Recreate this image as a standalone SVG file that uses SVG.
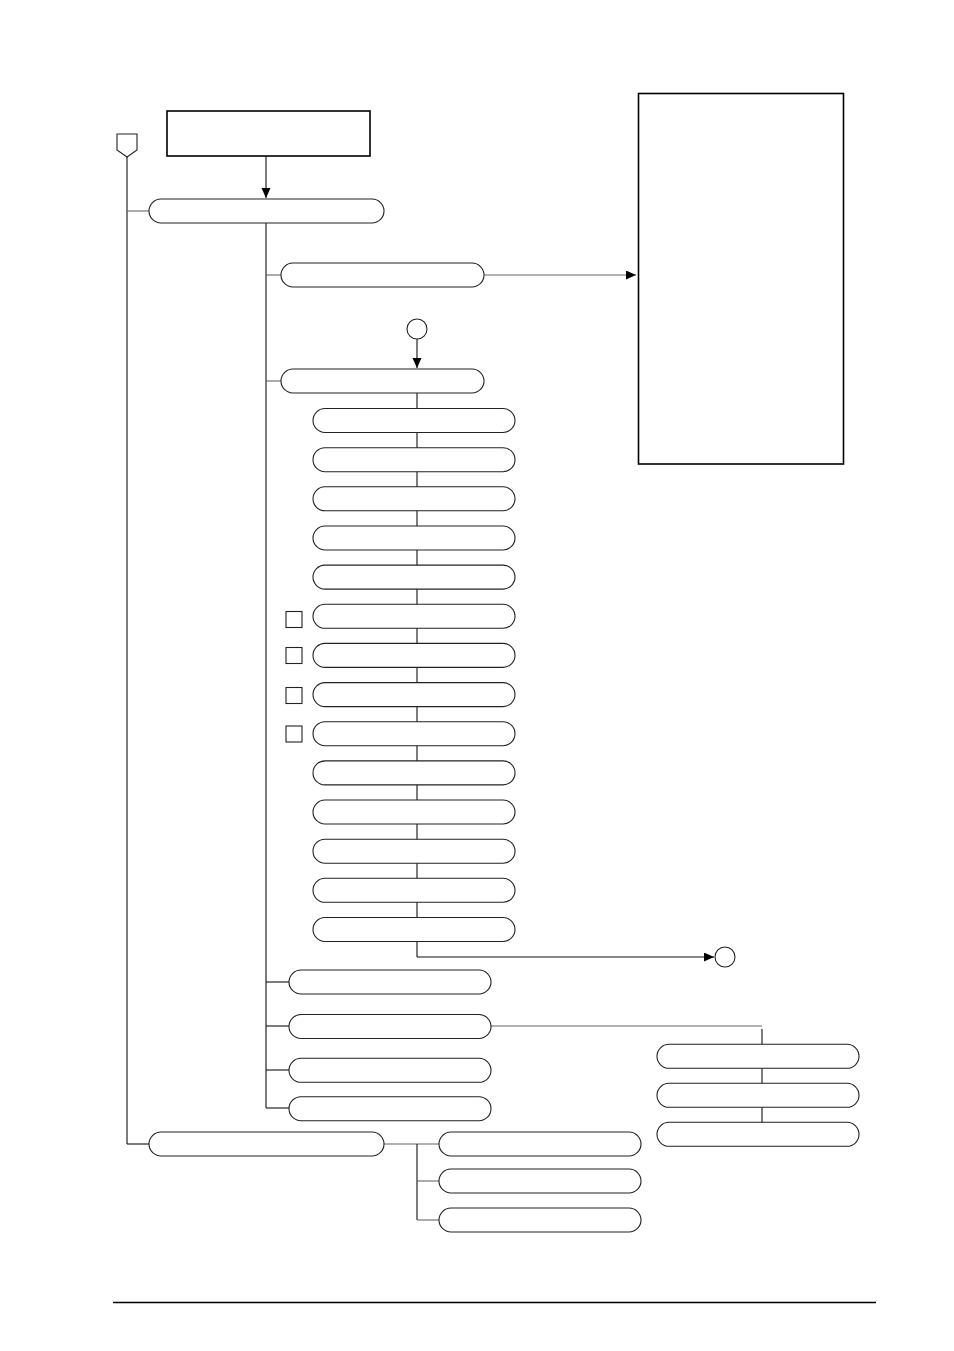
<svg xmlns="http://www.w3.org/2000/svg" width="954" height="1351" viewBox="0 0 954 1351">
<style>
.p{fill:#fff;stroke:#222;stroke-width:1.1}
.b{fill:#fff;stroke:#000;stroke-width:1.6}
.l{fill:none;stroke:#111;stroke-width:1.1}
.g{fill:none;stroke:#666;stroke-width:1.1}
</style>
<defs>
<marker id="ah" markerUnits="userSpaceOnUse" markerWidth="11" markerHeight="10" refX="10" refY="4.5" orient="auto">
<path d="M0,0 L10,4.5 L0,9 z" fill="#000"/>
</marker>
</defs>
<rect width="954" height="1351" fill="#fff"/>
<g id="connectors">
<line class="l" x1="127" y1="157" x2="127" y2="1144"/>
<line class="g" x1="127" y1="211" x2="149" y2="211"/>
<line class="l" x1="127" y1="1144" x2="149" y2="1144"/>
<line class="l" x1="266" y1="156" x2="266" y2="198" marker-end="url(#ah)"/>
<line class="l" x1="266" y1="223" x2="266" y2="1108"/>
<line class="g" x1="266" y1="275" x2="281" y2="275"/>
<line class="g" x1="484" y1="275" x2="636" y2="275" marker-end="url(#ah)"/>
<line class="l" x1="417" y1="339" x2="417" y2="368" marker-end="url(#ah)"/>
<line class="g" x1="266" y1="381" x2="281" y2="381"/>
<line class="l" x1="417" y1="393" x2="417" y2="957"/>
<line class="l" x1="417" y1="957" x2="714" y2="957" marker-end="url(#ah)"/>
<line class="l" x1="266" y1="982" x2="289" y2="982"/>
<line class="l" x1="266" y1="1026" x2="289" y2="1026"/>
<line class="g" x1="491" y1="1026" x2="762" y2="1026"/>
<line class="l" x1="762" y1="1029" x2="762" y2="1134"/>
<line class="l" x1="266" y1="1070" x2="289" y2="1070"/>
<line class="l" x1="266" y1="1108" x2="289" y2="1108"/>
<line class="g" x1="384" y1="1144" x2="439" y2="1144"/>
<line class="l" x1="417" y1="1144" x2="417" y2="1220"/>
<line class="g" x1="417" y1="1181" x2="439" y2="1181"/>
<line class="g" x1="417" y1="1220" x2="439" y2="1220"/>
<line x1="113" y1="1302.5" x2="876" y2="1302.5" stroke="#000" stroke-width="1.3"/>
</g>
<g id="start-box"><rect class="b" x="167" y="111" width="203" height="45"/></g>
<g id="offpage"><polygon class="p" points="117,134 137,134 137,150 127,157 117,150"/></g>
<g id="right-box"><rect class="b" x="638.5" y="93.5" width="205" height="370.5"/></g>
<g id="n1"><rect class="p" x="149" y="199" width="235" height="24" rx="12"/></g>
<g id="n2"><rect class="p" x="281" y="263" width="203" height="24" rx="12"/></g>
<g id="c1"><circle class="p" cx="417" cy="329" r="10"/></g>
<g id="n3"><rect class="p" x="281" y="369" width="203" height="24" rx="12"/></g>
<g id="s0"><rect class="p" x="313" y="408.5" width="202" height="24" rx="12"/></g>
<g id="s1"><rect class="p" x="313" y="447.7" width="202" height="24" rx="12"/></g>
<g id="s2"><rect class="p" x="313" y="486.8" width="202" height="24" rx="12"/></g>
<g id="s3"><rect class="p" x="313" y="526" width="202" height="24" rx="12"/></g>
<g id="s4"><rect class="p" x="313" y="565.1" width="202" height="24" rx="12"/></g>
<g id="s5"><rect class="p" x="313" y="604.3" width="202" height="24" rx="12"/></g>
<g id="s6"><rect class="p" x="313" y="643.4" width="202" height="24" rx="12"/></g>
<g id="s7"><rect class="p" x="313" y="682.6" width="202" height="24" rx="12"/></g>
<g id="s8"><rect class="p" x="313" y="721.7" width="202" height="24" rx="12"/></g>
<g id="s9"><rect class="p" x="313" y="760.9" width="202" height="24" rx="12"/></g>
<g id="s10"><rect class="p" x="313" y="800" width="202" height="24" rx="12"/></g>
<g id="s11"><rect class="p" x="313" y="839.2" width="202" height="24" rx="12"/></g>
<g id="s12"><rect class="p" x="313" y="878.3" width="202" height="24" rx="12"/></g>
<g id="s13"><rect class="p" x="313" y="917.5" width="202" height="24" rx="12"/></g>
<g id="q1"><rect class="p" x="286" y="611.5" width="16" height="16"/></g>
<g id="q2"><rect class="p" x="286" y="647.5" width="16" height="16"/></g>
<g id="q3"><rect class="p" x="286" y="687.5" width="16" height="16"/></g>
<g id="q4"><rect class="p" x="286" y="726" width="16" height="16"/></g>
<g id="c2"><circle class="p" cx="725" cy="957" r="10"/></g>
<g id="n4"><rect class="p" x="289" y="970" width="202" height="24" rx="12"/></g>
<g id="n5"><rect class="p" x="289" y="1014.5" width="202" height="24" rx="12"/></g>
<g id="n6"><rect class="p" x="289" y="1058.3" width="202" height="24" rx="12"/></g>
<g id="n7"><rect class="p" x="289" y="1096.7" width="202" height="24" rx="12"/></g>
<g id="r1"><rect class="p" x="657" y="1044.3" width="202" height="24" rx="12"/></g>
<g id="r2"><rect class="p" x="657" y="1083.3" width="202" height="24" rx="12"/></g>
<g id="r3"><rect class="p" x="657" y="1122.3" width="202" height="24" rx="12"/></g>
<g id="n8"><rect class="p" x="149" y="1132" width="235" height="24" rx="12"/></g>
<g id="b1"><rect class="p" x="439" y="1132" width="202" height="24" rx="12"/></g>
<g id="b2"><rect class="p" x="439" y="1169" width="202" height="24" rx="12"/></g>
<g id="b3"><rect class="p" x="439" y="1208" width="202" height="24" rx="12"/></g>
</svg>
